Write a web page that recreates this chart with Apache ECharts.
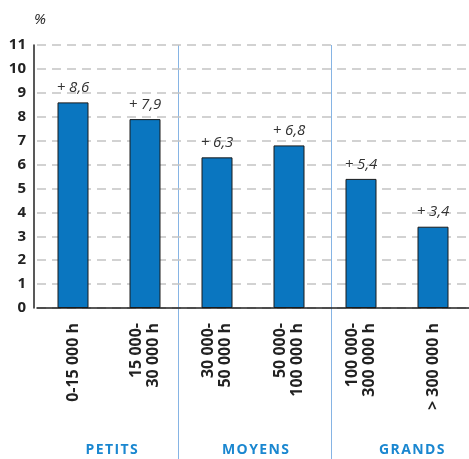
<!DOCTYPE html>
<html><head><meta charset="utf-8">
<script src="https://cdn.jsdelivr.net/npm/echarts@6/dist/echarts.min.js"></script>
<style>html,body{margin:0;padding:0;background:#fff}#c{width:469px;height:459px}</style>
</head><body><div id="c"></div>
<script>
var categories = ['0-15 000 h', '15 000-\n30 000 h', '30 000-\n50 000 h', '50 000-\n100 000 h', '100 000-\n300 000 h', '> 300 000 h'];
var values = [8.6, 7.9, 6.3, 6.8, 5.4, 3.4];
var groups = ['PETITS', 'MOYENS', 'GRANDS'];
var yMin = 0, yMax = 11, yStep = 1;

var chart = echarts.init(document.getElementById('c'));
var FONT = '"Open Sans", "Noto Sans", sans-serif';
var groupX = [111.7, 255.5, 411.7];
var sepX = [178.5, 331.5];
var graphics = [];
sepX.forEach(function (x) {
  graphics.push({ type: 'line', shape: { x1: x, y1: 45, x2: x, y2: 459 }, style: { stroke: '#86b4e4', lineWidth: 1 }, z: 0 });
});
groups.forEach(function (g, i) {
  graphics.push({ type: 'text', x: groupX[i], y: 450, style: { text: g.split('').join('\u200A'), fill: '#1a87d0', font: 'bold 14px ' + FONT, textAlign: 'center', textVerticalAlign: 'middle' } });
});
chart.setOption({
  animation: false,
  grid: { left: 37, right: -8, top: 45, bottom: 151, containLabel: false },
  xAxis: {
    type: 'category', data: categories,
    axisLine: { lineStyle: { color: '#222', width: 1.5 } },
    axisTick: { show: false },
    axisLabel: { interval: 0, rotate: 90, margin: 15, color: '#222', fontWeight: 'bold', fontSize: 16, fontFamily: FONT, lineHeight: 17 }
  },
  yAxis: {
    type: 'value', min: yMin, max: yMax, interval: yStep, offset: 3,
    name: '%', nameLocation: 'end', nameGap: 25,
    nameTextStyle: { color: '#222', fontStyle: 'italic', fontSize: 15, fontFamily: FONT, align: 'left', verticalAlign: 'middle' },
    axisLine: { show: true, lineStyle: { color: '#222', width: 1.5 } },
    axisTick: { show: false },
    axisLabel: { color: '#222', fontWeight: 'bold', fontSize: 15, fontFamily: FONT, margin: 8 },
    splitLine: { lineStyle: { color: '#c4c4c4', width: 1.5, type: [9, 6] } }
  },
  series: [{
    type: 'bar', data: values, barWidth: 31,
    itemStyle: { color: '#0a76c0', borderColor: '#1a1a1a', borderWidth: 1 },
    label: {
      show: true, position: 'top', distance: 7, color: '#333', fontStyle: 'italic', fontSize: 15, fontFamily: FONT,
      formatter: function (p) { return '+ ' + String(p.value).replace('.', ','); }
    }
  }],
  graphic: graphics
});
</script></body></html>
